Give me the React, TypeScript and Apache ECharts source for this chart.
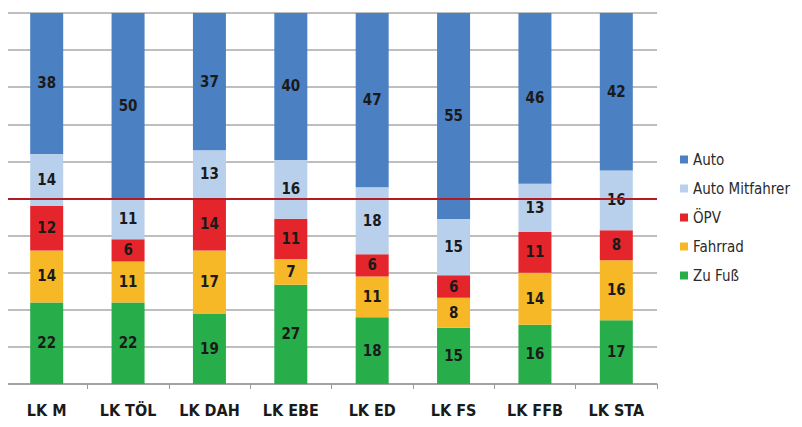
import React, { useEffect, useRef } from "react";
import * as echarts from "echarts";

const categories = ["LK M", "LK TÖL", "LK DAH", "LK EBE", "LK ED", "LK FS", "LK FFB", "LK STA"];
const zuFuss = [22, 22, 19, 27, 18, 15, 16, 17];
const fahrrad = [14, 11, 17, 7, 11, 8, 14, 16];
const opv = [12, 6, 14, 11, 6, 6, 11, 8];
const autoMitfahrer = [14, 11, 13, 16, 18, 15, 13, 16];
const auto = [38, 50, 37, 40, 47, 55, 46, 42];
const referenceLine = 50;

const FONT = "'DejaVu Sans Condensed', 'Liberation Sans Narrow', sans-serif";

export default function App() {
  const ref = useRef<HTMLDivElement>(null);
  useEffect(() => {
    if (!ref.current) return;
    const chart = echarts.init(ref.current, null, { renderer: "svg" });
    const all = [zuFuss, fahrrad, opv, autoMitfahrer, auto];
    const totals = categories.map((_, i) => all.reduce((s, arr) => s + arr[i], 0));
    // 100%-stacked: normalise each column to its total, label with the raw value
    const pct = (arr: number[]) =>
      arr.map((v, i) => ({ value: (v / totals[i]) * 100, raw: v }));
    const label = {
      show: true,
      position: "inside",
      color: "#1a1a1a",
      fontFamily: FONT,
      fontWeight: "bold",
      fontSize: 15,
      formatter: (p: any) => String(p.data.raw),
    };
    const mk = (name: string, data: number[], color: string, extra: any = {}) => ({
      name,
      type: "bar",
      stack: "total",
      barWidth: 33,
      data: pct(data),
      itemStyle: { color },
      label,
      ...extra,
    });
    chart.setOption({
      animation: false,
      backgroundColor: "#ffffff",
      grid: { left: 6, right: 145, top: 13, bottom: 43 },
      legend: {
        orient: "vertical",
        left: 675,
        top: 146,
        itemWidth: 8,
        itemHeight: 8,
        itemGap: 12,
        icon: "rect",
        data: ["Auto", "Auto Mitfahrer", "ÖPV", "Fahrrad", "Zu Fuß"],
        textStyle: { fontFamily: FONT, fontSize: 15, color: "#2a2a2a", lineHeight: 17 },
      },
      xAxis: {
        type: "category",
        data: categories,
        axisLine: { lineStyle: { color: "#9a9a9a", width: 1.5 } },
        axisTick: { show: true, length: 5, lineStyle: { color: "#9a9a9a" } },
        axisLabel: {
          margin: 18,
          color: "#1a1a1a",
          fontFamily: FONT,
          fontWeight: "bold",
          fontSize: 16,
        },
      },
      yAxis: {
        type: "value",
        min: 0,
        max: 100,
        interval: 10,
        axisLabel: { show: false },
        axisLine: { show: false },
        axisTick: { show: false },
        splitLine: { lineStyle: { color: "#a8a8a8", width: 1.5 } },
      },
      series: [
        mk("Zu Fuß", zuFuss, "#27ae4a"),
        mk("Fahrrad", fahrrad, "#f6b826"),
        mk("ÖPV", opv, "#e4252b"),
        mk("Auto Mitfahrer", autoMitfahrer, "#b8d0ec"),
        mk("Auto", auto, "#4b80c2", {
          markLine: {
            silent: true,
            symbol: "none",
            label: { show: false },
            lineStyle: { color: "#b01c22", width: 2, type: "solid" },
            data: [{ yAxis: referenceLine }],
          },
        }),
      ],
    });
    return () => chart.dispose();
  }, []);
  return <div ref={ref} style={{ width: 802, height: 427, margin: -8 }} />;
}
